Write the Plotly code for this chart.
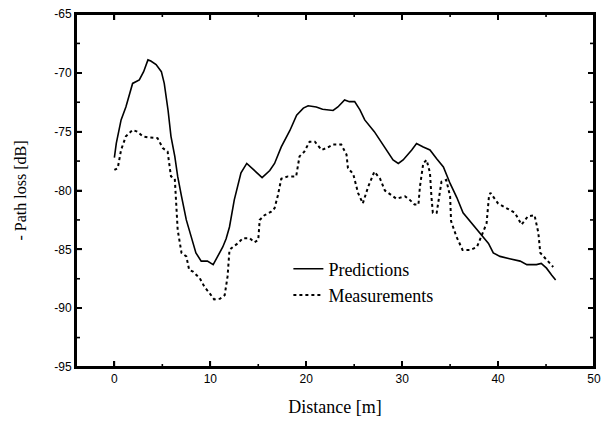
import plotly.graph_objects as go

# predictions (solid line)
pred_d = [0.0, 0.2, 0.7, 1.2, 1.9, 2.6, 3.05, 3.5, 3.8, 4.35, 4.9, 5.2, 5.6, 5.9, 6.3, 6.6,
          7.0, 7.5, 8.0, 8.5, 9.05, 9.7, 10.3, 10.8, 11.3, 11.65, 12.0, 12.5, 13.2, 13.8,
          14.6, 15.4, 16.2, 16.7, 17.4, 18.3, 19.0, 19.7, 20.2, 21.05, 21.7, 22.8, 23.3,
          24.0, 24.5, 25.05, 25.6, 26.1, 27.1, 28.2, 29.05, 29.6, 30.1, 31.0, 31.5, 32.2,
          32.9, 33.6, 34.3, 35.0, 35.7, 36.35, 37.05, 37.6, 38.3, 39.0, 39.5, 40.2, 41.2,
          42.3, 43.0, 44.0, 44.5, 45.05, 45.6, 46.0]
pred_v = [-77.2, -76.0, -74.0, -72.9, -70.9, -70.6, -69.9, -68.9, -69.0, -69.3, -69.9, -70.9,
          -73.2, -75.4, -77.1, -78.8, -80.5, -82.5, -83.9, -85.3, -86.0, -86.0, -86.3, -85.6,
          -84.8, -84.1, -83.1, -80.8, -78.5, -77.7, -78.3, -78.9, -78.3, -77.7, -76.3, -74.9,
          -73.6, -73.0, -72.8, -72.9, -73.1, -73.2, -72.9, -72.3, -72.45, -72.45, -73.15,
          -74.0, -75.0, -76.3, -77.4, -77.7, -77.4, -76.55, -76.0, -76.3, -76.55, -77.3,
          -78.0, -79.4, -80.6, -81.9, -82.6, -83.1, -83.8, -84.5, -85.3, -85.6, -85.8, -86.0,
          -86.3, -86.3, -86.2, -86.6, -87.2, -87.6]

# measurements (dotted line)
meas_d = [0.0, 0.35, 0.7, 1.2, 1.9, 2.4, 2.95, 3.65, 4.5, 5.05, 5.55, 5.9, 6.3, 6.6, 7.0,
          7.5, 7.8, 8.2, 8.9, 9.4, 9.9, 10.4, 11.0, 11.5, 11.8, 12.0, 12.35, 12.85, 13.4,
          14.1, 14.6, 15.0, 15.15, 15.65, 16.35, 16.7, 17.05, 17.4, 18.1, 18.95, 19.3, 19.8,
          20.35, 20.9, 21.6, 22.1, 22.8, 23.65, 24.2, 24.35, 24.9, 25.4, 25.9, 26.45, 27.1,
          27.7, 28.2, 28.9, 29.4, 30.3, 30.8, 31.3, 31.7, 31.85, 32.2, 32.55, 32.9, 33.05,
          33.2, 33.6, 33.9, 34.1, 34.6, 35.0, 35.1, 35.65, 36.3, 37.1, 37.8, 38.4, 38.8,
          39.05, 39.2, 40.0, 40.9, 41.75, 42.45, 43.1, 43.8, 44.2, 44.4, 45.05, 45.75]
meas_v = [-78.25, -78.1, -76.55, -75.4, -74.85, -75.0, -75.4, -75.5, -75.55, -76.4, -76.7,
          -78.8, -79.0, -83.35, -85.3, -85.6, -86.75, -86.9, -87.45, -88.2, -88.7, -89.25,
          -89.2, -88.9, -87.3, -85.05, -84.8, -84.5, -84.05, -84.05, -84.4, -84.2, -82.5,
          -82.1, -81.8, -81.5, -80.4, -79.0, -78.8, -78.8, -77.1, -76.7, -75.85, -75.85,
          -76.55, -76.4, -76.1, -76.1, -76.95, -78.1, -78.6, -80.2, -81.1, -79.7, -78.4,
          -79.0, -80.0, -80.4, -80.7, -80.5, -80.8, -81.2, -81.2, -79.7, -77.7, -77.4, -78.5,
          -80.5, -81.9, -81.9, -80.5, -79.25, -79.1, -80.5, -82.6, -83.9, -85.05, -85.05,
          -84.8, -83.6, -82.8, -80.5, -80.2, -81.1, -81.5, -81.9, -82.9, -82.2, -82.1, -83.6,
          -85.3, -85.9, -86.5]

y_ticks = [-95, -90, -85, -80, -75, -70, -65]
y_labels = ["-95", "-90", "-85", "-80", "-75", "-70", "-65"]
x_ticks = [0, 10, 20, 30, 40, 50]

fig = go.Figure()
fig.add_trace(go.Scatter(x=pred_d, y=pred_v, mode="lines", name="Predictions",
                         line=dict(color="black", width=1.6)))
fig.add_trace(go.Scatter(x=meas_d, y=meas_v, mode="lines", name="Measurements",
                         line=dict(color="black", width=2, dash="dot")))

axis_common = dict(showline=True, linecolor="#000000", linewidth=2, mirror="allticks",
                   ticks="inside", ticklen=6, tickwidth=1.5, tickcolor="#000000",
                   showgrid=False, zeroline=False, automargin=False,
                   ticklabeloverflow="allow",
                   tickfont=dict(family="Liberation Sans, Arial", size=12, color="black"))

fig.update_xaxes(range=[-4, 50], tickvals=x_ticks,
                 title_text="Distance [m]",
                 title_font=dict(family="Liberation Serif, Times New Roman", size=18, color="black"),
                 **axis_common)
fig.update_yaxes(range=[-95, -65], tickvals=y_ticks, ticktext=y_labels,
                 title_text="- Path loss [dB]", title_standoff=24,
                 title_font=dict(family="Liberation Serif, Times New Roman", size=16, color="black"),
                 **axis_common)

# plot frame
fig.add_shape(type="rect", xref="paper", yref="paper", x0=0, x1=1, y0=0, y1=1,
              line=dict(color="black", width=2), layer="above")

# inward tick marks on all four sides, as thin filled bars (plain straight
# paths did not show up in the capture)
tick_style = dict(fillcolor="black", line=dict(width=0), layer="above")
x_minor = [t + 5 for t in x_ticks[:-1]]
y_minor = [t + 2.5 for t in y_ticks[:-1]]
for xs, ln in [(x_ticks, 6), (x_minor, 3)]:
    for t in xs:
        for anchor, y0, y1 in [(0, 0, ln), (1, -ln, 0)]:
            fig.add_shape(type="rect", xref="x", yref="paper",
                          xsizemode="pixel", xanchor=t, x0=-0.8, x1=0.8,
                          ysizemode="pixel", yanchor=anchor, y0=y0, y1=y1, **tick_style)
for ys, ln in [(y_ticks, 6), (y_minor, 4)]:
    for t in ys:
        for anchor, x0, x1 in [(0, 0, ln), (1, -ln, 0)]:
            fig.add_shape(type="rect", xref="paper", yref="y",
                          xsizemode="pixel", xanchor=anchor, x0=x0, x1=x1,
                          ysizemode="pixel", yanchor=t, y0=-0.8, y1=0.8, **tick_style)

fig.update_layout(
    width=603, height=423,
    margin=dict(l=76, r=9, t=14, b=56),
    paper_bgcolor="white", plot_bgcolor="white",
    legend=dict(x=0.41, y=0.33, xanchor="left", yanchor="top",
                bgcolor="rgba(0,0,0,0)",
                font=dict(family="Liberation Serif, Times New Roman", size=18, color="black"),
                tracegroupgap=0),
)

# the page gets no body margin so the figure sits at the window corner
page_js = "document.body.style.margin='0';"

fig.write_html("out.html", post_script=page_js, config={"displayModeBar": False})
